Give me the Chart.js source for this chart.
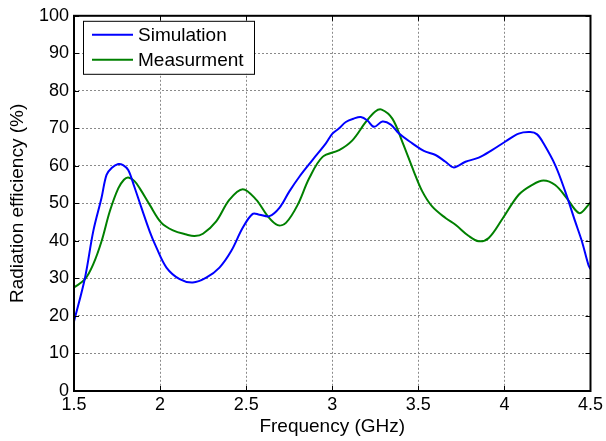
<!DOCTYPE html>
<html>
<head>
<meta charset="utf-8">
<script src="https://cdn.jsdelivr.net/npm/chart.js@4/dist/chart.umd.min.js"></script>
<style>
  html, body { margin: 0; padding: 0; background: #fff; }
  #wrap { width: 606px; height: 441px; }
</style>
</head>
<body>
<div id="wrap"><canvas id="effChart"></canvas></div>
<script>
// Simulation curve
const freqSim = [1.5, 1.564, 1.612, 1.66, 1.689, 1.72, 1.757, 1.785, 1.815, 1.85, 1.892, 1.94, 1.979, 2.037, 2.114, 2.19, 2.268, 2.345, 2.413, 2.48, 2.538, 2.577, 2.635, 2.693, 2.751, 2.809, 2.886, 2.963, 3.001, 3.04, 3.079, 3.125, 3.166, 3.204, 3.243, 3.291, 3.34, 3.388, 3.465, 3.532, 3.6, 3.658, 3.706, 3.774, 3.851, 3.928, 4.006, 4.083, 4.15, 4.19, 4.227, 4.295, 4.353, 4.411, 4.45, 4.488, 4.5];
const effSim = [18.5, 30.2, 42.6, 51.5, 57.6, 59.5, 60.5, 60.2, 58.9, 54.5, 48.8, 42.5, 38.2, 32.9, 29.8, 28.9, 30.2, 32.9, 37.3, 43.5, 47.2, 47.0, 46.6, 48.8, 53.2, 57.1, 61.6, 66.0, 68.6, 70.0, 71.7, 72.6, 73.0, 72.1, 70.4, 71.8, 71.0, 68.6, 66.0, 64.0, 62.9, 61.1, 59.6, 61.1, 62.2, 64.2, 66.5, 68.6, 69.0, 68.4, 66.0, 60.2, 53.2, 45.2, 39.9, 33.6, 32.5];

// Measurement curve
const freqMeas = [1.5, 1.564, 1.612, 1.66, 1.708, 1.757, 1.79, 1.815, 1.85, 1.882, 1.94, 2.008, 2.075, 2.153, 2.2, 2.249, 2.326, 2.403, 2.48, 2.558, 2.625, 2.683, 2.731, 2.799, 2.866, 2.944, 3.04, 3.117, 3.195, 3.25, 3.287, 3.349, 3.407, 3.474, 3.523, 3.58, 3.658, 3.716, 3.793, 3.851, 3.909, 3.986, 4.083, 4.16, 4.227, 4.295, 4.362, 4.411, 4.44, 4.488, 4.5];
const effMeas = [27.6, 29.8, 33.8, 39.9, 47.9, 54.0, 56.3, 56.9, 56.0, 54.0, 49.6, 44.8, 42.8, 41.7, 41.3, 41.9, 45.2, 51.0, 53.8, 51.0, 46.6, 44.2, 44.8, 49.6, 56.7, 62.4, 64.2, 66.8, 71.7, 74.5, 75.0, 72.6, 66.4, 58.5, 53.2, 49.2, 46.1, 44.3, 41.3, 39.9, 40.8, 45.7, 52.3, 54.9, 56.1, 54.9, 51.4, 48.3, 47.4, 49.6, 50.3];

const seriesNames = ['Simulation', 'Measurment'];
const xTicks = [1.5, 2, 2.5, 3, 3.5, 4, 4.5];
const yTicks = [0, 10, 20, 30, 40, 50, 60, 70, 80, 90, 100];

const FONT = 'Liberation Sans, Arial, sans-serif';

function toPoints(xs, ys) {
    return xs.map((x, i) => ({ x: x, y: ys[i] }));
}

// MATLAB-ish frame: black box with inward tick marks
const framePlugin = {
    id: 'frame',
    afterDraw(chart) {
        const { ctx, chartArea: a, scales } = chart;
        ctx.save();
        ctx.strokeStyle = '#000';
        ctx.lineWidth = 1;
        ctx.beginPath();
        xTicks.forEach(v => {
            const px = Math.round(scales.x.getPixelForValue(v)) + 0.5;
            ctx.moveTo(px, a.bottom); ctx.lineTo(px, a.bottom - 5);
            ctx.moveTo(px, a.top); ctx.lineTo(px, a.top + 5);
        });
        yTicks.forEach(v => {
            const py = Math.round(scales.y.getPixelForValue(v)) + 0.5;
            ctx.moveTo(a.left, py); ctx.lineTo(a.left + 5, py);
            ctx.moveTo(a.right, py); ctx.lineTo(a.right - 5, py);
        });
        ctx.stroke();
        ctx.lineWidth = 2;
        ctx.strokeRect(a.left, a.top, a.right - a.left, a.bottom - a.top);
        ctx.restore();
    }
};

// legend box in the upper left corner of the plot
const boxLegend = {
    id: 'boxLegend',
    afterDraw(chart) {
        const { ctx, chartArea: a } = chart;
        const x0 = a.left + 9, y0 = a.top + 5, w = 171, h = 53;
        ctx.save();
        ctx.fillStyle = '#fff';
        ctx.fillRect(x0, y0, w, h);
        ctx.strokeStyle = '#000';
        ctx.lineWidth = 1;
        ctx.strokeRect(x0 + 0.5, y0 + 0.5, w, h);
        ctx.font = '19px ' + FONT;
        ctx.textBaseline = 'middle';
        chart.data.datasets.forEach((ds, i) => {
            const y = y0 + 14 + i * 25;
            ctx.strokeStyle = ds.borderColor;
            ctx.lineWidth = 2;
            ctx.beginPath();
            ctx.moveTo(x0 + 9, y);
            ctx.lineTo(x0 + 50, y);
            ctx.stroke();
            ctx.fillStyle = '#000';
            ctx.fillText(ds.label, x0 + 55, y + 1);
        });
        ctx.restore();
    }
};

new Chart(document.getElementById('effChart'), {
    type: 'line',
    data: {
        datasets: [
            {
                label: seriesNames[0],
                data: toPoints(freqSim, effSim),
                borderColor: '#0000ff',
                borderWidth: 2,
                pointRadius: 0,
                tension: 0.35,
                fill: false
            },
            {
                label: seriesNames[1],
                data: toPoints(freqMeas, effMeas),
                borderColor: '#008000',
                borderWidth: 2,
                pointRadius: 0,
                tension: 0.35,
                fill: false
            }
        ]
    },
    options: {
        responsive: true,
        maintainAspectRatio: false,
        animation: false,
        layout: { padding: { top: 13, right: 14, left: 0, bottom: 0 } },
        plugins: {
            legend: { display: false },
            tooltip: { enabled: false }
        },
        scales: {
            x: {
                type: 'linear',
                min: 1.5,
                max: 4.5,
                afterBuildTicks: s => { s.ticks = xTicks.map(v => ({ value: v })); },
                afterFit: s => { s.height = 50; },
                ticks: {
                    color: '#000',
                    font: { size: 18, family: FONT },
                    padding: 3,
                    maxRotation: 0,
                    callback: v => String(v)
                },
                grid: {
                    color: '#8a8a8a',
                    drawTicks: false
                },
                border: { display: false, dash: [2, 2] },
                title: {
                    display: true,
                    text: 'Frequency (GHz)',
                    color: '#000',
                    font: { size: 19, family: FONT },
                    padding: { top: 0, bottom: 3 }
                }
            },
            y: {
                min: 0,
                max: 100,
                afterBuildTicks: s => { s.ticks = yTicks.map(v => ({ value: v })); },
                afterFit: s => { s.width = 74; },
                ticks: {
                    color: '#000',
                    font: { size: 18, family: FONT },
                    padding: 5
                },
                grid: {
                    color: '#8a8a8a',
                    drawTicks: false
                },
                border: { display: false, dash: [2, 2] },
                title: {
                    display: true,
                    text: 'Radiation efficiency (%)',
                    color: '#000',
                    font: { size: 19, family: FONT },
                    padding: { top: 6, bottom: 0 }
                }
            }
        }
    },
    plugins: [framePlugin, boxLegend]
});
</script>
</body>
</html>
